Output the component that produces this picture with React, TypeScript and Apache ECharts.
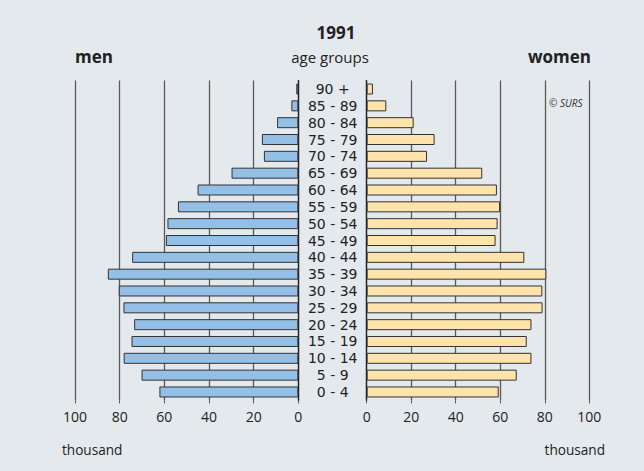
import React, { useEffect, useRef } from "react";
import * as echarts from "echarts";

const ageGroups = [
  "0 - 4", "5 - 9", "10 - 14", "15 - 19", "20 - 24", "25 - 29", "30 - 34",
  "35 - 39", "40 - 44", "45 - 49", "50 - 54", "55 - 59", "60 - 64", "65 - 69",
  "70 - 74", "75 - 79", "80 - 84", "85 - 89", "90 +",
];
const men = [62.2, 70.2, 78.2, 74.7, 73.5, 78.3, 80.4, 85.3, 74.4, 59.3, 58.6, 53.9, 45.1, 29.9, 15.4, 16.3, 9.5, 3.1, 0.9];
const women = [59.3, 67.4, 74.0, 71.9, 74.0, 79.0, 78.9, 80.7, 70.8, 57.9, 58.8, 59.9, 58.5, 51.9, 27.1, 30.5, 21.1, 8.8, 2.8];
const xTicks = [0, 20, 40, 60, 80, 100];

const FONT = "'Open Sans', 'DejaVu Sans', sans-serif";
const CAT_FONT = "'DejaVu Sans', sans-serif";
const TEXT = "#222";

export default function App() {
  const ref = useRef<HTMLDivElement>(null);
  useEffect(() => {
    if (!ref.current) return;
    const chart = echarts.init(ref.current, undefined, { renderer: "svg" });
    const xAxisCommon = {
      type: "value",
      min: xTicks[0],
      max: xTicks[xTicks.length - 1],
      interval: 20,
      axisLine: { show: false },
      axisTick: { show: true, length: 3, lineStyle: { color: "#555" } },
      axisLabel: { color: TEXT, fontSize: 14, fontFamily: FONT, margin: 9 },
      splitLine: { show: true, lineStyle: { color: "#5a5a5a", width: 1.3 } },
    };
    const barCommon = {
      type: "bar",
      barWidth: 11,
      itemStyle: { borderColor: "#333", borderWidth: 1 },
    };
    chart.setOption({
      animation: false,
      backgroundColor: "#e4e9ee",
      grid: [
        { left: 75, right: 644 - 298.3, top: 80.6, bottom: 70.6, containLabel: false },
        { left: 366.7, right: 644 - 589.3, top: 80.6, bottom: 70.6, containLabel: false },
      ],
      xAxis: [
        { ...xAxisCommon, gridIndex: 0, inverse: true },
        { ...xAxisCommon, gridIndex: 1 },
      ],
      yAxis: [
        {
          type: "category",
          gridIndex: 0,
          data: ageGroups,
          position: "right",
          axisLine: { show: true, lineStyle: { color: "#222", width: 1.3 } },
          axisTick: { show: false },
          axisLabel: { show: false },
        },
        {
          type: "category",
          gridIndex: 1,
          data: ageGroups,
          position: "left",
          axisLine: { show: true, lineStyle: { color: "#222", width: 1.3 } },
          axisTick: { show: false },
          axisLabel: {
            show: true,
            interval: 0,
            align: "center",
            margin: 34,
            color: TEXT,
            fontSize: 14,
            lineHeight: 15,
            fontFamily: CAT_FONT,
          },
        },
      ],
      series: [
        { ...barCommon, name: "men", xAxisIndex: 0, yAxisIndex: 0, data: men, itemStyle: { ...barCommon.itemStyle, color: "#94bfe6" } },
        { ...barCommon, name: "women", xAxisIndex: 1, yAxisIndex: 1, data: women, itemStyle: { ...barCommon.itemStyle, color: "#fee3ab" } },
      ],
      graphic: [
        { type: "text", x: 336, y: 32, style: { text: "1991", font: `bold 17px ${FONT}`, fill: TEXT, textAlign: "center", textVerticalAlign: "middle" } },
        { type: "text", x: 75, y: 56.5, style: { text: "men", font: `bold 17px ${FONT}`, fill: TEXT, textAlign: "left", textVerticalAlign: "middle" } },
        { type: "text", x: 591, y: 56.5, style: { text: "women", font: `bold 17px ${FONT}`, fill: TEXT, textAlign: "right", textVerticalAlign: "middle" } },
        { type: "text", x: 330, y: 57, style: { text: "age groups", font: `15px ${FONT}`, fill: TEXT, textAlign: "center", textVerticalAlign: "middle" } },
        { type: "text", x: 62, y: 449, style: { text: "thousand", font: `13.6px ${FONT}`, fill: TEXT, textAlign: "left", textVerticalAlign: "middle" } },
        { type: "text", x: 605, y: 449, style: { text: "thousand", font: `13.6px ${FONT}`, fill: TEXT, textAlign: "right", textVerticalAlign: "middle" } },
        { type: "text", x: 549, y: 103, style: { text: "© SURS", font: `italic 10px ${FONT}`, fill: "#333", textAlign: "left", textVerticalAlign: "middle" } },
      ],
    });
    return () => chart.dispose();
  }, []);
  return <div ref={ref} style={{ position: "fixed", left: 0, top: 0, width: 644, height: 471 }} />;
}
